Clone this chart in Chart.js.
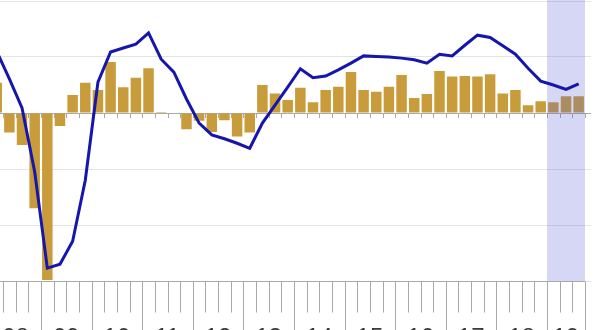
<!DOCTYPE html>
<html>
<head>
<meta charset="utf-8">
<script src="https://cdn.jsdelivr.net/npm/chart.js@4.4.1/dist/chart.umd.min.js"></script>
<style>
  html, body {
    margin: 0;
    padding: 0;
    background: #fff;
    overflow: hidden;
    width: 600px;
    height: 330px;
  }
  #wrap {
    position: absolute;
    left: -20px;
    top: 0;
  }
</style>
</head>
<body>
<div id="wrap">
  <canvas id="gdpChart" width="611" height="330"></canvas>
</div>
<script>
// years on the axis, last one only has 3 quarters so far
const years = ['08', '09', '10', '11', '12', '13', '14', '15', '16', '17', '18', '19'];
const quartersInLastYear = 3;

// quarter on quarter growth (bars)
const qoqGrowth = [
  0.54, -0.35, -0.57, -1.70,
  -2.98, -0.23, 0.32, 0.54,
  0.41, 0.91, 0.46, 0.63,
  0.80, 0.02, 0.00, -0.29,
  -0.14, -0.34, -0.13, -0.42,
  -0.35, 0.50, 0.35, 0.23,
  0.45, 0.19, 0.41, 0.47,
  0.73, 0.41, 0.38, 0.47,
  0.68, 0.27, 0.34, 0.75,
  0.65, 0.66, 0.65, 0.69,
  0.35, 0.41, 0.14, 0.21,
  0.19, 0.30, 0.30
];

// year on year growth (line), same units as the bars
const yoyGrowth = [
  1.10, 0.61, 0.09, -1.05,
  -2.77, -2.70, -2.29, -1.20,
  0.55, 1.09, 1.16, 1.23,
  1.43, 0.96, 0.73, 0.25,
  -0.18, -0.39, -0.46, -0.54,
  -0.63, -0.18, 0.14, 0.46,
  0.79, 0.63, 0.66, 0.77,
  0.89, 1.02, 1.01, 1.00,
  0.98, 0.95, 0.89, 1.05,
  1.02, 1.21, 1.39, 1.35,
  1.20, 1.05, 0.80, 0.57,
  0.50, 0.42, 0.52
];

const yTicks = [-3, -2, -1, 0, 1, 2];
const shadedFrom = '19Q1';

const categories = [];
years.forEach((yr, k) => {
  const n = k === years.length - 1 ? quartersInLastYear : 4;
  for (let q = 1; q <= n; q++) categories.push(yr + 'Q' + q);
});

const axisGrey = '#a9a9a9';

const decor = {
  id: 'decor',
  beforeDatasetsDraw(chart) {
    // little quarter marks hanging off the zero line
    const { ctx, scales: { x, y } } = chart;
    const y0 = Math.round(y.getPixelForValue(0));
    ctx.save();
    ctx.strokeStyle = axisGrey;
    ctx.lineWidth = 1;
    ctx.beginPath();
    for (let i = 0; i <= categories.length; i++) {
      const px = Math.round(x.getPixelForValue(i - 0.5)) + 0.5;
      ctx.moveTo(px, y0);
      ctx.lineTo(px, y0 + 5);
    }
    ctx.stroke();
    ctx.restore();
  },
  beforeDatasetDraw(chart, args) {
    if (args.meta.type !== 'line') return;
    // forecast band, sits over the bars but under the line
    const { ctx, chartArea, scales: { x } } = chart;
    const i0 = categories.indexOf(shadedFrom);
    const left = x.getPixelForValue(i0 - 0.5);
    ctx.save();
    ctx.fillStyle = 'rgba(88, 94, 210, 0.25)';
    ctx.fillRect(left, 0, chartArea.right - left, chartArea.bottom);
    ctx.restore();
  },
  afterDraw(chart) {
    const { ctx, chartArea, scales: { x } } = chart;
    const base = Math.round(chartArea.bottom) + 0.5;
    ctx.save();
    ctx.strokeStyle = axisGrey;
    ctx.lineWidth = 1;
    ctx.beginPath();
    ctx.moveTo(chartArea.left, base);
    ctx.lineTo(chartArea.right, base);
    for (let i = 0; i <= categories.length; i++) {
      const px = Math.round(x.getPixelForValue(i - 0.5)) + 0.5;
      const yearEdge = i % 4 === 0 || i === categories.length;
      ctx.moveTo(px, base);
      ctx.lineTo(px, yearEdge ? base + 70 : base + 31);
    }
    ctx.stroke();

    ctx.fillStyle = '#3a3a3a';
    ctx.font = '24px "Liberation Sans", Arial, sans-serif';
    ctx.textAlign = 'center';
    ctx.textBaseline = 'alphabetic';
    years.forEach((yr, k) => {
      const s = k * 4;
      const e = Math.min(s + 4, categories.length);
      const cx = (x.getPixelForValue(s - 0.5) + x.getPixelForValue(e - 0.5)) / 2;
      ctx.fillText(yr, cx, base + 63);
    });
    ctx.restore();
  }
};

new Chart(document.getElementById('gdpChart'), {
  type: 'bar',
  data: {
    labels: categories,
    datasets: [
      {
        type: 'line',
        data: yoyGrowth,
        borderColor: '#1616ac',
        borderWidth: 3,
        pointRadius: 0,
        tension: 0,
        fill: false,
        order: 1
      },
      {
        type: 'bar',
        data: qoqGrowth,
        backgroundColor: '#c99c3b',
        borderWidth: 0,
        categoryPercentage: 1,
        barPercentage: 0.83,
        order: 2
      }
    ]
  },
  options: {
    responsive: false,
    animation: false,
    layout: { padding: { left: 10.4, right: 0, top: 1, bottom: 49 } },
    plugins: {
      legend: { display: false },
      tooltip: { enabled: false }
    },
    scales: {
      x: {
        display: false,
        offset: true
      },
      y: {
        position: 'right',
        min: yTicks[0],
        max: yTicks[yTicks.length - 1],
        afterBuildTicks: (scale) => {
          scale.ticks = yTicks.map(v => ({ value: v }));
        },
        ticks: { display: false },
        border: { display: false },
        grid: {
          tickLength: 6,
          color: (c) => (c.tick && c.tick.value === 0 ? axisGrey : '#e4e4e4')
        }
      }
    }
  },
  plugins: [decor]
});
</script>
</body>
</html>
